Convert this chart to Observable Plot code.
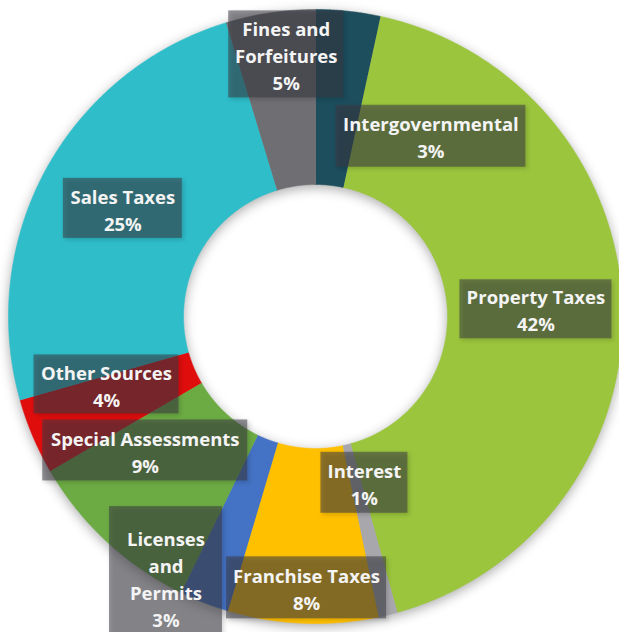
<!DOCTYPE html>
<html><head><meta charset="utf-8">
<script src="https://cdn.jsdelivr.net/npm/d3@7"></script>
<script src="https://cdn.jsdelivr.net/npm/@observablehq/plot@0.6"></script>
<style>
html,body{margin:0;padding:0;background:#fff;overflow:hidden}
#chart{width:619px;height:632px}
</style>
</head><body><div id="chart"></div>
<script>
// ---- data (clockwise from 12 o'clock) ----
const categories = ["Intergovernmental","Property Taxes","Interest","Franchise Taxes","Licenses and Permits","Special Assessments","Other Sources","Sales Taxes","Fines and Forfeitures"];
const shares = [3.4, 42.3, 1.0, 7.9, 2.6, 9.4, 4.0, 24.7, 4.7];
const displayNames = ["Intergovernmental","Property Taxes","Interest","Franchise Taxes","Licenses\nand\nPermits","Special Assessments","Other Sources","Sales Taxes","Fines and\nForfeitures"];
const colors = ["#1c4e5e","#9bc53d","#a7a7ac","#ffc000","#4472c4","#6cab43","#e00d0d","#2ebdc9","#6e6e73"];

// ---- layout (pixels) ----
const W = 619, H = 632, CX = 315, CY = 316, R_OUT = 307, R_IN = 132;
// label box offset from the slice's mid-ring anchor, and box size
const labelLayout = [
  {dx: 92, dy: 38, w: 190, h: 62},
  {dx: 1, dy: -1, w: 152, h: 59},
  {dx: -3, dy: -47, w: 87, h: 61},
  {dx: 0, dy: 52, w: 160, h: 62},
  {dx: -70, dy: 57, w: 113, h: 143},
  {dx: -21, dy: -27, w: 205, h: 61},
  {dx: -7, dy: -18, w: 145, h: 59},
  {dx: 0, dy: -3, w: 119, h: 60},
  {dx: 3, dy: -45, w: 115, h: 87}
];

const total = d3.sum(shares);
const rin = R_IN / R_OUT, rmid = (R_IN + R_OUT) / 2 / R_OUT;
const ring = [], labels = [];
let acc = 0;
shares.forEach((v, i) => {
  const a0 = acc / total * 2 * Math.PI, a1 = (acc + v) / total * 2 * Math.PI;
  acc += v;
  const n = Math.max(2, Math.ceil((a1 - a0) / (Math.PI / 720)));
  for (let k = 0; k <= n; k++) {
    const t = a0 + (a1 - a0) * k / n;
    ring.push({cat: categories[i], x: Math.sin(t), y: Math.cos(t)});
  }
  for (let k = n; k >= 0; k--) {
    const t = a0 + (a1 - a0) * k / n;
    ring.push({cat: categories[i], x: rin * Math.sin(t), y: rin * Math.cos(t)});
  }
  const am = (a0 + a1) / 2, L = labelLayout[i];
  const x = rmid * Math.sin(am) + L.dx / R_OUT;
  const y = rmid * Math.cos(am) - L.dy / R_OUT;
  labels.push({
    cat: categories[i], x, y,
    x1: x - L.w / 2 / R_OUT, x2: x + L.w / 2 / R_OUT,
    y1: y - L.h / 2 / R_OUT, y2: y + L.h / 2 / R_OUT,
    text: displayNames[i] + "\n" + Math.round(v) + "%"
  });
});

const chart = Plot.plot({
  width: W, height: H, margin: 0,
  x: {domain: [-CX / R_OUT, (W - CX) / R_OUT], range: [0, W], axis: null},
  y: {domain: [-(H - CY) / R_OUT, CY / R_OUT], range: [H, 0], axis: null},
  color: {domain: categories, range: colors},
  style: {background: "#fff", overflow: "hidden"},
  marks: [
    Plot.line(ring, {x: "x", y: "y", z: "cat", fill: "cat", stroke: "cat", strokeWidth: 0.6, curve: "linear"}),
    Plot.rect(labels, {x1: "x1", x2: "x2", y1: "y1", y2: "y2", fill: "#3b3b44", fillOpacity: 0.55}),
    Plot.text(labels, {x: "x", y: "y", text: "text", fill: "#f4f4f4", fontSize: 18.5, fontWeight: 700,
      fontFamily: "Open Sans, Noto Sans, sans-serif", lineHeight: 1.46, lineAnchor: "middle"})
  ]
});
document.getElementById("chart").appendChild(chart);
const gl = chart.querySelector('g[aria-label="line"]');
if (gl) gl.style.filter = "drop-shadow(0px 3px 6px rgba(0,0,0,0.33))";
const gr = chart.querySelector('g[aria-label="rect"]');
if (gr) gr.style.filter = "drop-shadow(2px 2px 2px rgba(0,0,0,0.28))";
</script>
</body></html>
